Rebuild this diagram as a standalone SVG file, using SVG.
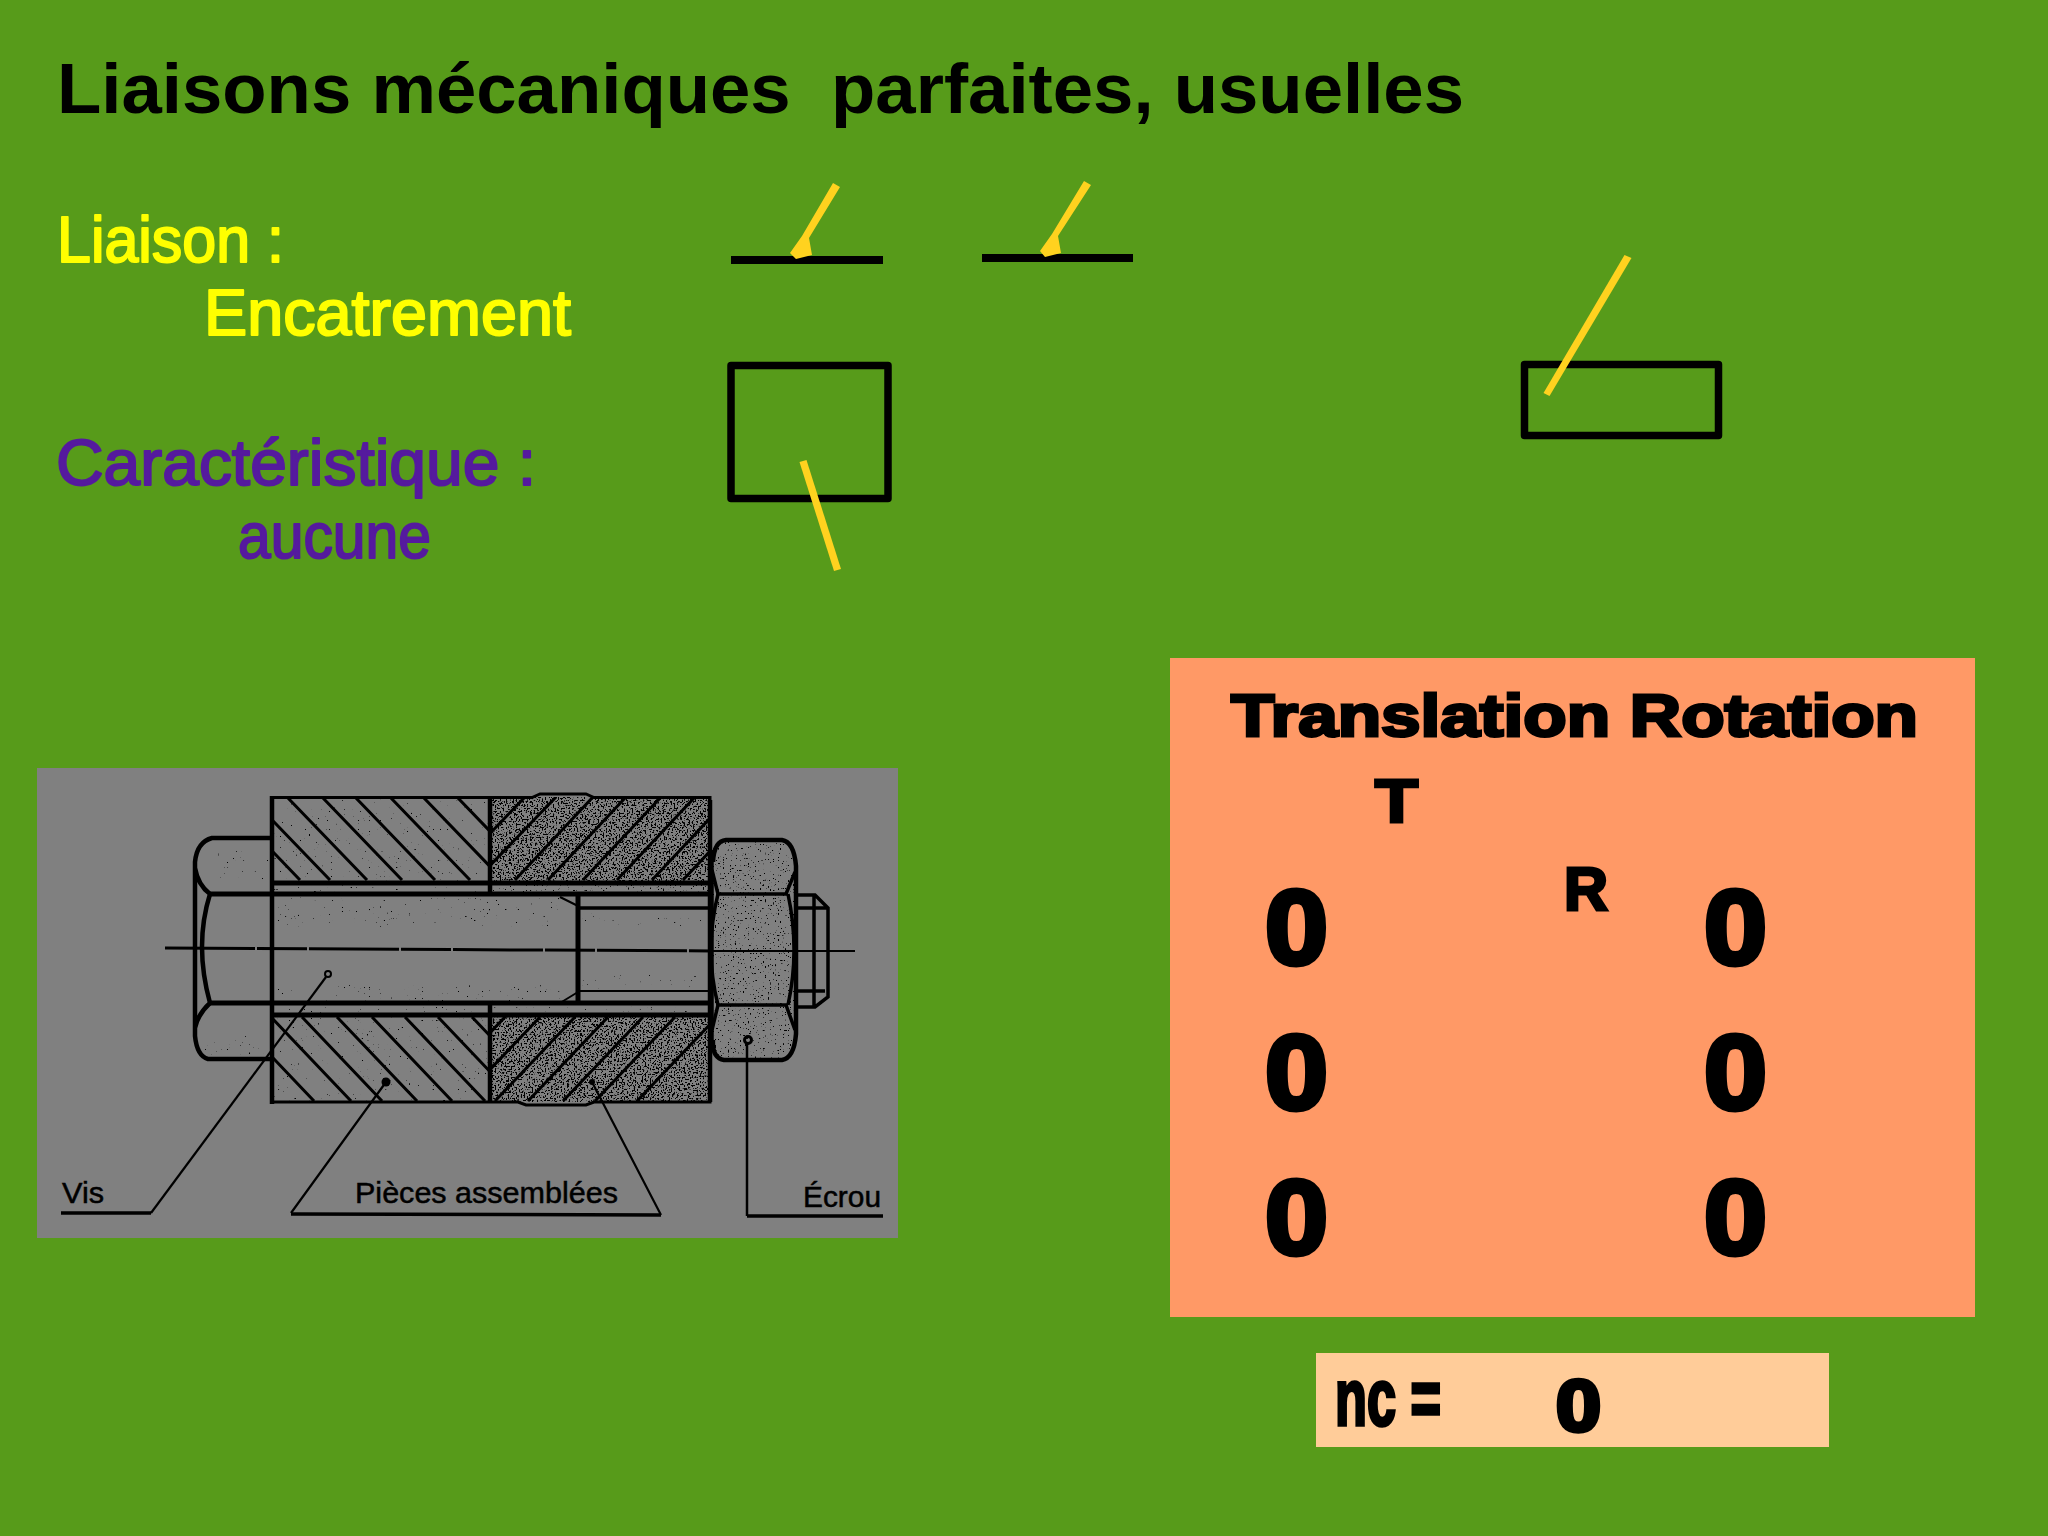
<svg xmlns="http://www.w3.org/2000/svg" width="2048" height="1536" viewBox="0 0 2048 1536">
<style>
.bk{fill:none;stroke:#000;stroke-linecap:butt}
.yl{fill:#ffd21f;stroke:none}
.hand{font-family:"Liberation Sans",Arial,sans-serif;font-size:64px;stroke-linejoin:round}
.bold{font-family:"Liberation Sans",Arial,sans-serif;font-weight:bold;fill:#000;stroke:#000}
.cap{font-family:"Liberation Sans",Arial,sans-serif;font-size:29px;fill:#000;stroke:#000;stroke-width:.5}
.h{stroke:#000;stroke-width:3;fill:none}
.t{stroke:#000;fill:none}
</style>
<defs>
<filter id="dense" x="0" y="0" width="1" height="1" color-interpolation-filters="sRGB">
<feTurbulence type="fractalNoise" baseFrequency="0.62" numOctaves="1" seed="4"/>
<feColorMatrix type="matrix" values="0 0 0 0 0 0 0 0 0 0 0 0 0 0 0 18 0 0 0 -9.7"/>
</filter>
<filter id="medium" x="0" y="0" width="1" height="1" color-interpolation-filters="sRGB">
<feTurbulence type="fractalNoise" baseFrequency="0.6" numOctaves="1" seed="9"/>
<feColorMatrix type="matrix" values="0 0 0 0 0 0 0 0 0 0 0 0 0 0 0 18 0 0 0 -11.8"/>
</filter>
<filter id="sparse" x="0" y="0" width="1" height="1" color-interpolation-filters="sRGB">
<feTurbulence type="fractalNoise" baseFrequency="0.55" numOctaves="1" seed="15"/>
<feColorMatrix type="matrix" values="0 0 0 0 0 0 0 0 0 0 0 0 0 0 0 18 0 0 0 -13"/>
</filter>
<clipPath id="cTL"><rect x="272" y="797" width="218" height="84"/></clipPath>
<clipPath id="cTR"><rect x="490" y="797" width="220" height="84"/></clipPath>
<clipPath id="cBL"><rect x="272" y="1017" width="218" height="85"/></clipPath>
<clipPath id="cBR"><rect x="490" y="1017" width="220" height="85"/></clipPath>
<clipPath id="cNut"><path d="M712 860Q714 840 726 840H782Q796 842 797 870V1034Q796 1058 782 1060H724Q712 1058 712 1040Z"/></clipPath>
</defs>

<rect id="background" width="2048" height="1536" fill="#579b1a"/>

<text id="title" x="57" y="113" class="bold" style="white-space:pre;stroke:none" font-size="71" textLength="1407" lengthAdjust="spacingAndGlyphs" xml:space="preserve">Liaisons mécaniques  parfaites, usuelles</text>

<g id="labels">
<text class="hand" x="57" y="262" fill="#ffff00" stroke="#ffff00" stroke-width="2" textLength="227" lengthAdjust="spacingAndGlyphs">Liaison :</text>
<text class="hand" x="204" y="335" fill="#ffff00" stroke="#ffff00" stroke-width="2" textLength="367" lengthAdjust="spacingAndGlyphs">Encatrement</text>
<text class="hand" x="56" y="485" fill="#551a9e" stroke="#551a9e" stroke-width="2" textLength="480" lengthAdjust="spacingAndGlyphs">Caractéristique :</text>
<text class="hand" x="238" y="558" fill="#551a9e" stroke="#551a9e" stroke-width="2" textLength="193" lengthAdjust="spacingAndGlyphs">aucune</text>
</g>

<g id="symbol-bar-1">
<rect x="731" y="256" width="152" height="8" fill="#000"/>
<path class="yl" d="M833 183L840 187L809 238L812 255L796 259L790 253L802 236Z"/>
</g>
<g id="symbol-bar-2">
<rect x="982" y="254" width="151" height="8" fill="#000"/>
<path class="yl" d="M1084 181L1091 185L1058 236L1061 253L1045 257L1040 251L1052 234Z"/>
</g>
<g id="symbol-rect-1">
<rect class="bk" x="731" y="365.500" width="157" height="133" stroke-width="7.500" stroke-linejoin="round"/>
<path class="yl" d="M799.500 462L806.500 460L841 569L834 571Z"/>
</g>
<g id="symbol-rect-2">
<rect class="bk" x="1524.500" y="364.500" width="194" height="71" stroke-width="7.500" stroke-linejoin="round"/>
<path class="yl" d="M1624.500 255L1631.500 258L1549.500 396L1543.500 393Z"/>
</g>

<g id="drawing">
<rect x="37" y="768" width="861" height="470" fill="#808080"/>

<g id="plates">
<rect x="490" y="797" width="220" height="84" filter="url(#dense)" clip-path="url(#cTR)"/>
<rect x="490" y="1017" width="220" height="85" filter="url(#dense)" clip-path="url(#cBR)"/>
<rect x="272" y="797" width="218" height="84" filter="url(#sparse)" clip-path="url(#cTL)"/>
<rect x="272" y="1017" width="218" height="85" filter="url(#sparse)" clip-path="url(#cBL)"/>
<rect x="490" y="885" width="220" height="8" filter="url(#medium)"/>
<rect x="272" y="885" width="218" height="8" filter="url(#sparse)"/>
<rect x="272" y="1006" width="438" height="8" filter="url(#sparse)"/>
<g clip-path="url(#cTL)">
<path class="h" d="M220 797l80 83M250 797l80 83M287 797l80 83M322 797l80 83M355 797l80 83M390 797l80 83M423 797l80 83M457 797l80 83"/>
</g>
<g clip-path="url(#cTR)">
<path class="h" d="M445 880l80-83M476 880l80-83M515 880l78-83M548 880l78-83M583 880l78-83M617 880l78-83M652 880l78-83M683 880l78-83"/>
</g>
<g clip-path="url(#cBL)">
<path class="h" d="M234 1017l80 84M271 1017l80 84M302 1017l80 84M337 1017l80 84M372 1017l80 84M405 1017l80 84M438 1017l80 84M472 1017l80 84"/>
</g>
<g clip-path="url(#cBR)">
<path class="h" d="M505 1017l-80 84M540 1017l-80 84M575 1017l-80 84M608 1017l-80 84M643 1017l-80 84M675 1017l-80 84M717 1017l-80 84"/>
</g>
<path class="t" stroke-width="3" d="M272 797.500H532L540 794H586L594 797.500H710V1102H594L586 1105H526L518 1102H272"/>
<path class="t" stroke-width="4.500" d="M272 796V1104M490 797V893M490 1005V1102M710 800V1102"/>
</g>

<g id="screw">
<rect x="278" y="897" width="282" height="30" filter="url(#sparse)"/>
<rect x="278" y="985" width="282" height="16" filter="url(#sparse)"/>
<rect x="215" y="850" width="55" height="30" filter="url(#sparse)"/>
<rect x="205" y="1035" width="60" height="20" filter="url(#sparse)"/>
<rect x="582" y="912" width="120" height="14" filter="url(#sparse)"/>
<rect x="582" y="975" width="120" height="14" filter="url(#sparse)"/>
<path class="t" stroke-width="5" d="M272 883H712M210 894H712M210 1003H712M272 1015H712M578 896V1004"/>
<path class="t" stroke-width="3.500" d="M578 908H708"/>
<path class="t" stroke-width="2" d="M578 991H708M560 897L578 906M560 1003L578 992"/>
<path class="t" stroke-width="4.500" d="M272 838H212Q197 842 195 862V1036Q197 1056 208 1059H272M195 868Q198 885 210 894Q194 945 210 1003Q198 1014 195 1028"/>
</g>

<g id="nut">
<rect x="712" y="840" width="85" height="220" filter="url(#medium)" clip-path="url(#cNut)"/>
<path class="t" stroke-width="4.500" d="M713 862Q714 841 726 840H782Q794 842 796 866V1034Q794 1058 782 1060H724Q712 1058 713 1040"/>
<path class="t" stroke-width="3.500" d="M712 870L718 894H786L795 872M712 1030L718 1005H786L795 1030"/>
<path class="t" stroke-width="3.500" d="M718 894Q704 950 718 1005M788 894Q800 950 788 1005"/>
<path class="t" stroke-width="5.500" d="M711 850V1048"/>
<path class="t" stroke-width="3.500" d="M797 895H815L828 908V997L815 1007H797M814 895V1007M797 908H828M797 991H825"/>
</g>

<g id="centre-line">
<path class="t" stroke-width="3" stroke-dasharray="90 2 50 2" d="M165 948L712 951"/>
<path class="t" stroke-width="2" d="M712 951H855"/>
</g>

<g id="leaders">
<circle cx="328" cy="974" r="3" class="t" stroke-width="2"/>
<circle cx="386" cy="1082" r="4.500" fill="#000"/>
<circle cx="592" cy="1082" r="3" fill="#000"/>
<circle cx="748" cy="1040" r="3.500" class="t" stroke-width="3"/>
<path class="t" stroke-width="2.200" d="M326 977L151 1213"/>
<path class="t" stroke-width="2.200" d="M386 1082L291 1213M592 1082L661 1215"/>
<path class="t" stroke-width="3.500" d="M61 1213H151M291 1214L661 1215M747 1216H883"/>
<path class="t" stroke-width="2.500" d="M747 1043V1216"/>
</g>

<text class="cap" x="62" y="1203" textLength="42" lengthAdjust="spacingAndGlyphs">Vis</text>
<text class="cap" x="355" y="1203" textLength="263" lengthAdjust="spacingAndGlyphs">Pièces assemblées</text>
<text class="cap" x="803" y="1207" textLength="78" lengthAdjust="spacingAndGlyphs">Écrou</text>
</g>

<g id="table">
<rect x="1170" y="658" width="805" height="659" fill="#ff9966"/>
<text class="bold" x="1231" y="736" font-size="60" stroke-width="3" textLength="687" lengthAdjust="spacingAndGlyphs">Translation Rotation</text>
<text class="bold" x="1375" y="822" font-size="61" stroke-width="3" textLength="43" lengthAdjust="spacingAndGlyphs">T</text>
<text class="bold" x="1564" y="910" font-size="61" stroke-width="3" textLength="44" lengthAdjust="spacingAndGlyphs">R</text>
<g font-size="105" stroke-width="5">
<text class="bold" x="1265" y="964" textLength="63" lengthAdjust="spacingAndGlyphs">0</text>
<text class="bold" x="1265" y="1109" textLength="63" lengthAdjust="spacingAndGlyphs">0</text>
<text class="bold" x="1265" y="1254" textLength="63" lengthAdjust="spacingAndGlyphs">0</text>
<text class="bold" x="1704" y="964" textLength="63" lengthAdjust="spacingAndGlyphs">0</text>
<text class="bold" x="1704" y="1109" textLength="63" lengthAdjust="spacingAndGlyphs">0</text>
<text class="bold" x="1704" y="1254" textLength="63" lengthAdjust="spacingAndGlyphs">0</text>
</g>
</g>

<g id="nc">
<rect x="1316" y="1353" width="513" height="94" fill="#ffcc99"/>
<text class="bold" x="1335" y="1425" font-size="80" stroke-width="3.500" textLength="106" lengthAdjust="spacingAndGlyphs">nc =</text>
<text class="bold" x="1556" y="1431" font-size="72" stroke-width="4.500" textLength="45" lengthAdjust="spacingAndGlyphs">0</text>
</g>
</svg>
